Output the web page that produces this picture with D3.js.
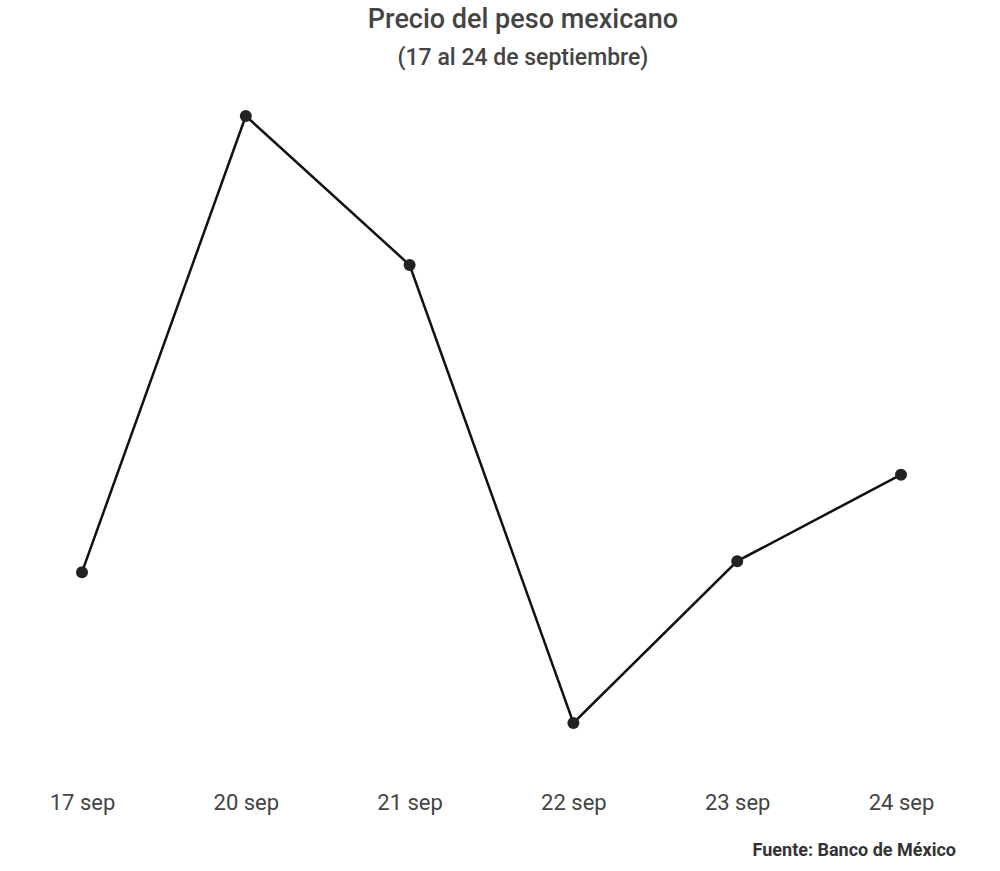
<!DOCTYPE html>
<html><head><meta charset="utf-8">
<script src="https://cdn.jsdelivr.net/npm/d3@7/dist/d3.min.js"></script>
<style>body{margin:0;background:#fff;}svg{display:block;font-family:Roboto,"Noto Sans",sans-serif;}</style>
</head><body><svg id="c" width="1000" height="871"></svg>
<script>
const categories = ["17 sep","20 sep","21 sep","22 sep","23 sep","24 sep"];
const values = [19.942, 20.19, 20.109, 19.86, 19.948, 19.995];
const title = "Precio del peso mexicano";
const subtitle = "(17 al 24 de septiembre)";
const source = "Fuente: Banco de México";

const svg = d3.select("#c");
const x = d3.scalePoint().domain(categories).range([82, 901]);
const y = d3.scaleLinear().domain([d3.min(values), d3.max(values)]).range([723, 116]);

svg.append("text").attr("x",523).attr("y",28).attr("text-anchor","middle")
  .attr("font-size",27).attr("font-weight",500).attr("fill","#444").text(title);
svg.append("text").attr("x",523).attr("y",65).attr("text-anchor","middle")
  .attr("font-size",23).attr("font-weight",500).attr("fill","#444").text(subtitle);

const ax = svg.append("g").attr("transform","translate(0,810)")
  .call(d3.axisBottom(x).tickSize(0).tickPadding(0));
ax.select(".domain").remove();
ax.selectAll("text").attr("font-size",22).attr("fill","#444")
  .attr("font-family","Roboto,sans-serif").attr("dy","0").attr("y",0);

const data = categories.map((c,i)=>({c, v: values[i]}));
svg.append("path").datum(data)
  .attr("fill","none").attr("stroke","#111").attr("stroke-width",2.5)
  .attr("d", d3.line().x(d=>x(d.c)).y(d=>y(d.v)));
svg.selectAll("circle.pt").data(data).join("circle").attr("class","pt")
  .attr("cx",d=>x(d.c)).attr("cy",d=>y(d.v)).attr("r",6).attr("fill","#222");

svg.append("text").attr("x",956).attr("y",856).attr("text-anchor","end")
  .attr("font-size",18).attr("font-weight",700).attr("fill","#333").text(source);
</script></body></html>
